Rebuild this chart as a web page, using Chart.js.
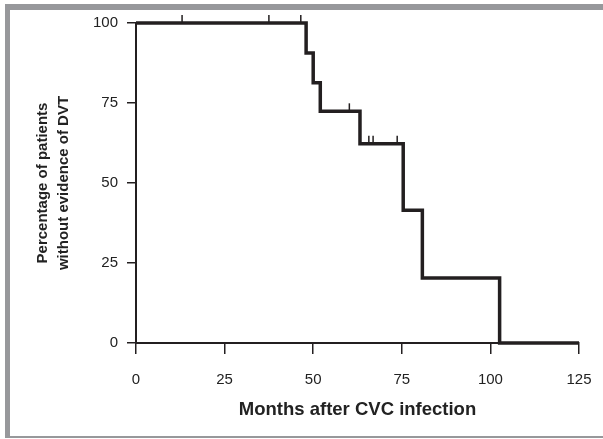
<!DOCTYPE html>
<html>
<head>
<meta charset="utf-8">
<script src="https://cdn.jsdelivr.net/npm/chart.js@4"></script>
<style>
  body { margin: 0; background: #fff; }
  #wrap { position: relative; width: 603px; height: 439px; }
  #frame {
    position: absolute; left: 5px; top: 4px; width: 598px; height: 434px;
    box-sizing: border-box; pointer-events: none;
    border-top: 6px solid #97989b; border-left: 5px solid #97989b; border-bottom: 2px solid #97989b;
  }
</style>
</head>
<body>
<div id="wrap">
  <canvas id="chart-1" width="603" height="439"></canvas>
  <div id="frame"></div>
</div>
<script>
// Kaplan-Meier steps (months, % without DVT)
const stepMonths = [0, 48, 50, 52, 63.2, 75.4, 80.8, 102.6, 125];
const stepPercent = [100, 90.6, 81.3, 72.4, 62.3, 41.5, 20.3, 0, 0];
// censored observations
const censorMonths = [13, 37.5, 46.5, 60.2, 65.7, 66.9, 73.7];
const censorPercent = [100, 100, 100, 72.4, 62.3, 62.3, 62.3];
const xTicks = [0, 25, 50, 75, 100, 125];
const yTicks = [0, 25, 50, 75, 100];

const ink = '#231f20';
Chart.defaults.font.family = '"Liberation Sans", Arial, Helvetica, sans-serif';
Chart.defaults.color = '#222';

const censorMarks = {
  id: 'censorMarks',
  afterDatasetsDraw(chart) {
    const ctx = chart.ctx;
    const xs = chart.scales.x, ys = chart.scales.y;
    ctx.save();
    ctx.strokeStyle = ink;
    ctx.lineWidth = 1.5;
    censorMonths.forEach(function (m, i) {
      const px = xs.getPixelForValue(m);
      const py = ys.getPixelForValue(censorPercent[i]);
      ctx.beginPath();
      ctx.moveTo(px, py);
      ctx.lineTo(px, py - 8);
      ctx.stroke();
    });
    ctx.restore();
  }
};

const ctx1 = document.getElementById('chart-1').getContext('2d');
const myChart1 = new Chart(ctx1, {
  type: 'line',
  data: {
    datasets: [{
      data: stepMonths.map((m, i) => ({ x: m, y: stepPercent[i] })),
      stepped: true,
      borderColor: ink,
      borderWidth: 3.5,
      pointRadius: 0,
      fill: false,
      clip: false
    }]
  },
  options: {
    responsive: false,
    animation: false,
    events: [],
    layout: { padding: { top: 23, right: 24, left: 0, bottom: 0 } },
    plugins: { legend: { display: false }, tooltip: { enabled: false } },
    scales: {
      x: {
        type: 'linear',
        min: 0, max: 125,
        afterBuildTicks: (scale) => { scale.ticks = xTicks.map(v => ({ value: v })); },
        afterFit: (scale) => {
          scale.height = 96;
          scale.paddingLeft = 0;
          scale.paddingRight = 0;
        },
        border: { color: ink, width: 2 },
        grid: { drawOnChartArea: false, tickLength: 11, color: ink, lineWidth: 1.5 },
        ticks: { padding: 17, maxRotation: 0, font: { size: 15 }, color: '#222' },
        title: {
          display: true,
          text: 'Months after CVC infection',
          font: { size: 18.5, weight: 'bold' },
          color: '#222',
          padding: { top: 0, bottom: 18 }
        }
      },
      y: {
        min: 0, max: 100,
        afterBuildTicks: (scale) => { scale.ticks = yTicks.map(v => ({ value: v })); },
        afterFit: (scale) => {
          scale.width = 136;
          scale.paddingTop = 0;
          scale.paddingBottom = 0;
        },
        border: { color: ink, width: 2 },
        grid: { drawOnChartArea: false, tickLength: 9, color: ink, lineWidth: 1.5 },
        ticks: { padding: 9, font: { size: 15 }, color: '#222' },
        title: {
          display: true,
          text: ['Percentage of patients', 'without evidence of DVT'],
          font: { size: 15, weight: 'bold', lineHeight: 1.4 },
          color: '#222',
          padding: { top: 32, bottom: 0 }
        }
      }
    }
  },
  plugins: [censorMarks]
});
</script>
</body>
</html>
